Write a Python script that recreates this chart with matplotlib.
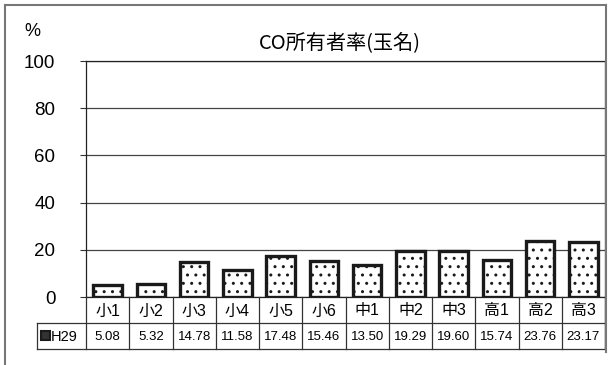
import numpy as np
import matplotlib.pyplot as plt
from matplotlib.patches import Rectangle
from matplotlib.lines import Line2D

plt.rcParams['font.family'] = ['Liberation Sans', 'Noto Sans CJK JP', 'DejaVu Sans']
plt.rcParams['hatch.color'] = '#555555'
plt.rcParams['hatch.linewidth'] = 1.0

# data
categories = ['小1', '小2', '小3', '小4', '小5', '小6', '中1', '中2', '中3', '高1', '高2', '高3']
values = [5.08, 5.32, 14.78, 11.58, 17.48, 15.46, 13.50, 19.29, 19.60, 15.74, 23.76, 23.17]
series_name = 'H29'
title = 'CO所有者率(玉名)'
yticks = [0, 20, 40, 60, 80, 100]

W, H = 609, 365
fig = plt.figure(figsize=(W / 100, H / 100), dpi=100)
ax = fig.add_axes([86 / W, 1 - 297 / H, (605 - 86) / W, (297 - 61) / H])

x = np.arange(len(categories))
ax.bar(x, values, width=0.66, color='white', edgecolor='#1a1a1a', linewidth=2.4, hatch='..', zorder=3)
ax.set_xlim(-0.5, len(categories) - 0.5)
ax.set_ylim(0, 100)
ax.set_yticks(yticks)
ax.set_yticklabels([str(t) for t in yticks], fontsize=13.5)
ax.tick_params(axis='y', length=4, pad=18, color='#333333')
ax.set_xticks([])
ax.grid(axis='y', color='#444444', linewidth=0.9, zorder=0)
for s in ax.spines.values():
    s.set_color('#222222')
    s.set_linewidth(0.9)

ax.set_title(title, fontsize=14.5, pad=9, x=0.49, family=['Noto Sans CJK JP'])
fig.text(24 / W, 1 - 32 / H, '%', fontsize=13, va='center', ha='left')

# data table below axis (figure pixel coords)
def fx(px):
    return px / W

def fy(py):
    return 1 - py / H

col_w = (605 - 86) / len(categories)
row_top, row_mid, row_bot = 297, 323, 349
lc = '#333333'
lines = [
    ((37, 605), (row_mid, row_mid)),
    ((37, 605), (row_bot, row_bot)),
    ((37, 37), (row_mid, row_bot)),
    ((605, 605), (row_top, row_bot)),
]
for i in range(len(categories) + 1):
    xp = 86 + i * col_w
    lines.append(((xp, xp), (row_top, row_bot)))
for (xs, ys) in lines:
    fig.add_artist(Line2D([fx(v) for v in xs], [fy(v) for v in ys], color=lc, linewidth=0.9))

for i, (c, v) in enumerate(zip(categories, values)):
    cx = 86 + (i + 0.5) * col_w
    fig.text(fx(cx), fy((row_top + row_mid) / 2 + 1), c, fontsize=11.5, ha='center', va='center')
    fig.text(fx(cx), fy((row_mid + row_bot) / 2 + 1), f'{v:.2f}', fontsize=9.5, ha='center', va='center')

fig.add_artist(Rectangle((fx(41), fy(340)), 9 / W, 9 / H, facecolor='#333333', edgecolor='#1a1a1a',
                         linewidth=1.5))
fig.text(fx(51), fy((row_mid + row_bot) / 2 + 1), series_name, fontsize=10.5, ha='left', va='center')

# outer chart frame
frame = [((5, 5), (5, 365)), ((5, 606), (5, 5)), ((606, 606), (5, 352))]
for (xs, ys) in frame:
    fig.add_artist(Line2D([fx(v) for v in xs], [fy(v) for v in ys], color='#777777', linewidth=1.5))

fig.savefig('out.png', dpi=100)
